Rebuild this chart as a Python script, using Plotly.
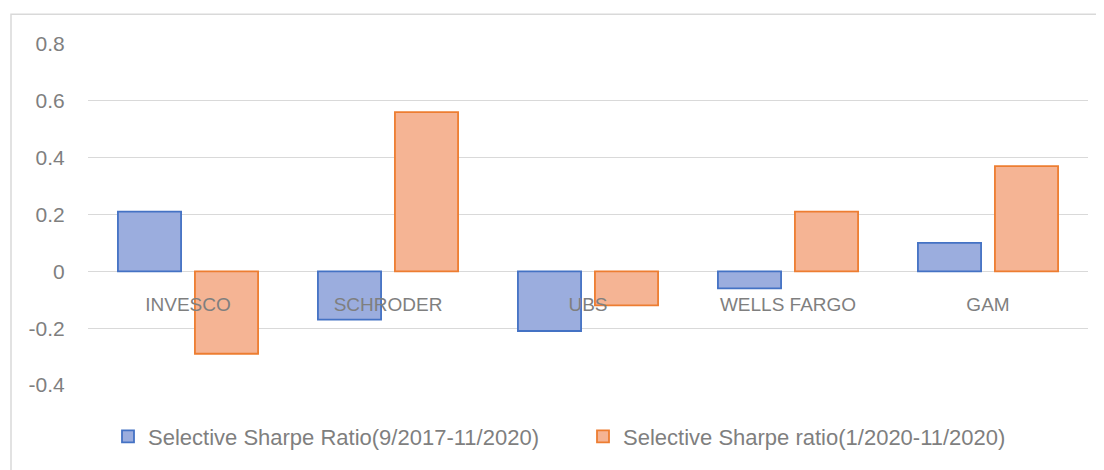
import plotly.graph_objects as go

categories = ["INVESCO", "SCHRODER", "UBS", "WELLS FARGO", "GAM"]
series1_name = "Selective Sharpe Ratio(9/2017-11/2020)"
series1 = [0.21, -0.17, -0.21, -0.06, 0.10]
series2_name = "Selective Sharpe ratio(1/2020-11/2020)"
series2 = [-0.29, 0.56, -0.12, 0.21, 0.37]
y_ticks = [-0.4, -0.2, 0, 0.2, 0.4, 0.6, 0.8]
y_ticktext = ["-0.4", "-0.2", "0", "0.2", "0.4", "0.6", "0.8"]

TEXT = "#7f7f7f"
FONT = "Liberation Sans"

fig = go.Figure()
fig.add_trace(go.Bar(
    x=categories, y=series1, name=series1_name,
    marker=dict(color="#9badde", line=dict(color="#4472c4", width=1.8)),
))
fig.add_trace(go.Bar(
    x=categories, y=series2, name=series2_name,
    marker=dict(color="#f5b494", line=dict(color="#ed7d31", width=1.8)),
))

# page offset (body margin of the html page)
OFF = 8
W, H = 1104 - OFF, 470 - OFF
L, R, T, B = 88 - OFF, 16, 44 - OFF, 82
pw, ph = W - L - R, H - T - B

def px_x(x):
    return (x - OFF - L) / pw

def px_y(y):
    return (H - B - (y - OFF)) / ph

fig.update_layout(
    width=W, height=H,
    margin=dict(l=L, r=R, t=T, b=B),
    paper_bgcolor="white", plot_bgcolor="white",
    barmode="group", bargap=0.23, bargroupgap=0.18,
    font=dict(family=FONT, color=TEXT, size=19),
    showlegend=True,
    legend=dict(
        orientation="h", x=px_x(583), xanchor="center",
        y=px_y(440), yanchor="middle",
        font=dict(size=22, color=TEXT, family=FONT),
        traceorder="normal", itemwidth=30,
        entrywidth=430, entrywidthmode="pixels",
        bgcolor="rgba(0,0,0,0)",
    ),
    xaxis=dict(
        anchor="free", position=0.4 / 1.2,
        showgrid=False, showline=False, zeroline=False,
        ticks="outside", ticklen=16, tickcolor="rgba(0,0,0,0)",
        tickfont=dict(size=19, color=TEXT, family=FONT),
    ),
    yaxis=dict(
        range=[-0.4, 0.8], tickvals=y_ticks, ticktext=y_ticktext,
        showgrid=True, gridcolor="#d9d9d9", gridwidth=1.4,
        zeroline=False, showline=False,
        ticks="outside", ticklen=18, tickcolor="rgba(0,0,0,0)",
        tickfont=dict(size=21, color=TEXT, family=FONT),
    ),
    shapes=[dict(
        type="rect", xref="paper", yref="paper",
        x0=px_x(11), x1=px_x(1112), y0=px_y(480), y1=px_y(14),
        line=dict(color="#d9d9d9", width=1.5), fillcolor="rgba(0,0,0,0)",
        layer="below",
    )],
)

fig.write_html("out.html")
